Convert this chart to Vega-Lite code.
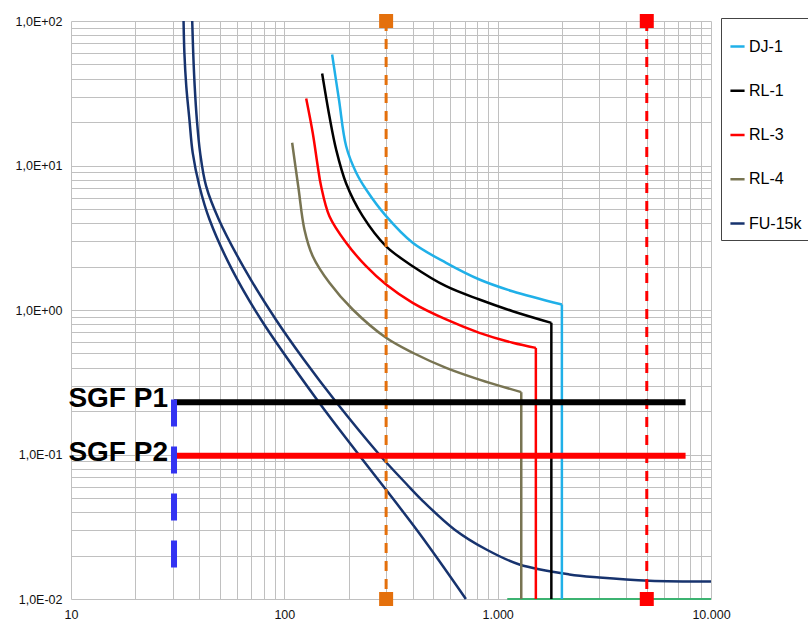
{
  "$schema": "https://vega.github.io/schema/vega-lite/v6.json",
  "width": 640,
  "height": 578,
  "autosize": {"type": "none"},
  "padding": {"left": 71, "top": 21, "right": 97, "bottom": 29},
  "background": "white",
  "config": {"view": {"stroke": null}, "font": "Liberation Sans"},
  "datasets": {
    "curveData": [
      {"series": "FU-15k", "part": "A", "x": 33.7, "y": 100},
      {"series": "FU-15k", "part": "A", "x": 34.0, "y": 60.3},
      {"series": "FU-15k", "part": "A", "x": 34.7, "y": 35.4},
      {"series": "FU-15k", "part": "A", "x": 35.9, "y": 20.8},
      {"series": "FU-15k", "part": "A", "x": 37.2, "y": 12.24},
      {"series": "FU-15k", "part": "A", "x": 40.0, "y": 7.19},
      {"series": "FU-15k", "part": "A", "x": 44.6, "y": 4.23},
      {"series": "FU-15k", "part": "A", "x": 56.8, "y": 1.91},
      {"series": "FU-15k", "part": "A", "x": 77.7, "y": 0.86},
      {"series": "FU-15k", "part": "A", "x": 144.3, "y": 0.2328},
      {"series": "FU-15k", "part": "A", "x": 223, "y": 0.1},
      {"series": "FU-15k", "part": "A", "x": 426.5, "y": 0.02885},
      {"series": "FU-15k", "part": "A", "x": 709.6, "y": 0.01},
      {"series": "FU-15k", "part": "B", "x": 37.0, "y": 100},
      {"series": "FU-15k", "part": "B", "x": 37.4, "y": 60.3},
      {"series": "FU-15k", "part": "B", "x": 38.0, "y": 35.4},
      {"series": "FU-15k", "part": "B", "x": 38.9, "y": 20.8},
      {"series": "FU-15k", "part": "B", "x": 40.3, "y": 12.24},
      {"series": "FU-15k", "part": "B", "x": 43.0, "y": 7.19},
      {"series": "FU-15k", "part": "B", "x": 49.3, "y": 4.23},
      {"series": "FU-15k", "part": "B", "x": 65.3, "y": 1.91},
      {"series": "FU-15k", "part": "B", "x": 91.2, "y": 0.86},
      {"series": "FU-15k", "part": "B", "x": 123.4, "y": 0.4544},
      {"series": "FU-15k", "part": "B", "x": 174.1, "y": 0.2328},
      {"series": "FU-15k", "part": "B", "x": 278.5, "y": 0.1},
      {"series": "FU-15k", "part": "B", "x": 309.8, "y": 0.0839},
      {"series": "FU-15k", "part": "B", "x": 371.8, "y": 0.063},
      {"series": "FU-15k", "part": "B", "x": 439.0, "y": 0.0488},
      {"series": "FU-15k", "part": "B", "x": 626.8, "y": 0.0303},
      {"series": "FU-15k", "part": "B", "x": 885, "y": 0.022},
      {"series": "FU-15k", "part": "B", "x": 1264, "y": 0.01733},
      {"series": "FU-15k", "part": "B", "x": 2168, "y": 0.01479},
      {"series": "FU-15k", "part": "B", "x": 2998, "y": 0.0141},
      {"series": "FU-15k", "part": "B", "x": 5140, "y": 0.0134},
      {"series": "FU-15k", "part": "B", "x": 10000, "y": 0.0132},
      {"series": "DJ-1", "part": "C", "x": 167.5, "y": 58.6},
      {"series": "DJ-1", "part": "C", "x": 180.3, "y": 28.6},
      {"series": "DJ-1", "part": "C", "x": 194.9, "y": 13.6},
      {"series": "DJ-1", "part": "C", "x": 217.0, "y": 8.95},
      {"series": "DJ-1", "part": "C", "x": 241.7, "y": 6.82},
      {"series": "DJ-1", "part": "C", "x": 300, "y": 4.46},
      {"series": "DJ-1", "part": "C", "x": 399.6, "y": 2.92},
      {"series": "DJ-1", "part": "C", "x": 573.2, "y": 2.12},
      {"series": "DJ-1", "part": "C", "x": 821, "y": 1.626},
      {"series": "DJ-1", "part": "C", "x": 1172, "y": 1.349},
      {"series": "DJ-1", "part": "C", "x": 2000, "y": 1.092},
      {"series": "RL-1", "part": "C", "x": 150.4, "y": 43.3},
      {"series": "RL-1", "part": "C", "x": 162.7, "y": 21.9},
      {"series": "RL-1", "part": "C", "x": 174.9, "y": 12.9},
      {"series": "RL-1", "part": "C", "x": 194.9, "y": 7.51},
      {"series": "RL-1", "part": "C", "x": 233.0, "y": 4.46},
      {"series": "RL-1", "part": "C", "x": 300, "y": 2.76},
      {"series": "RL-1", "part": "C", "x": 399.6, "y": 2.01},
      {"series": "RL-1", "part": "C", "x": 573.2, "y": 1.461},
      {"series": "RL-1", "part": "C", "x": 821, "y": 1.182},
      {"series": "RL-1", "part": "C", "x": 1176, "y": 0.981},
      {"series": "RL-1", "part": "C", "x": 1785, "y": 0.815},
      {"series": "RL-3", "part": "C", "x": 126.6, "y": 29.1},
      {"series": "RL-3", "part": "C", "x": 135.9, "y": 16.8},
      {"series": "RL-3", "part": "C", "x": 143.4, "y": 9.89},
      {"series": "RL-3", "part": "C", "x": 148.5, "y": 7.27},
      {"series": "RL-3", "part": "C", "x": 162.7, "y": 4.46},
      {"series": "RL-3", "part": "C", "x": 194.9, "y": 2.92},
      {"series": "RL-3", "part": "C", "x": 241.7, "y": 2.01},
      {"series": "RL-3", "part": "C", "x": 300, "y": 1.501},
      {"series": "RL-3", "part": "C", "x": 399.6, "y": 1.121},
      {"series": "RL-3", "part": "C", "x": 573.2, "y": 0.86},
      {"series": "RL-3", "part": "C", "x": 821, "y": 0.695},
      {"series": "RL-3", "part": "C", "x": 1176, "y": 0.593},
      {"series": "RL-3", "part": "C", "x": 1510, "y": 0.547},
      {"series": "RL-4", "part": "C", "x": 108.8, "y": 14.36},
      {"series": "RL-4", "part": "C", "x": 116.4, "y": 7.04},
      {"series": "RL-4", "part": "C", "x": 124.2, "y": 3.61},
      {"series": "RL-4", "part": "C", "x": 135.9, "y": 2.357},
      {"series": "RL-4", "part": "C", "x": 162.7, "y": 1.543},
      {"series": "RL-4", "part": "C", "x": 209.2, "y": 1.008},
      {"series": "RL-4", "part": "C", "x": 300, "y": 0.642},
      {"series": "RL-4", "part": "C", "x": 399.6, "y": 0.506},
      {"series": "RL-4", "part": "C", "x": 573.2, "y": 0.398},
      {"series": "RL-4", "part": "C", "x": 821, "y": 0.33},
      {"series": "RL-4", "part": "C", "x": 1290, "y": 0.27}
    ],
    "dropData": [
      {"series": "DJ-1", "x": 2000, "y": 1.092, "yEnd": 0.01},
      {"series": "RL-1", "x": 1785, "y": 0.815, "yEnd": 0.01},
      {"series": "RL-3", "x": 1510, "y": 0.547, "yEnd": 0.01},
      {"series": "RL-4", "x": 1290, "y": 0.27, "yEnd": 0.01}
    ],
    "markerLines": [
      {"marca": "M1", "x": 300, "yTop": 100, "yBottom": 0.01},
      {"marca": "M2", "x": 5000, "yTop": 100, "yBottom": 0.01}
    ],
    "markerEnds": [
      {"marca": "M1", "x": 300, "y": 100},
      {"marca": "M1", "x": 300, "y": 0.01},
      {"marca": "M2", "x": 5000, "y": 100},
      {"marca": "M2", "x": 5000, "y": 0.01}
    ],
    "sgfLines": [
      {"name": "SGF P1", "x": 30.4, "xEnd": 7600, "y": 0.23},
      {"name": "SGF P2", "x": 30.4, "xEnd": 7600, "y": 0.098}
    ],
    "sgfTimeData": [
      {"x": 30.4, "y": 0.2404, "yEnd": 0.01652}
    ],
    "baseLine": [
      {"x": 1109, "xEnd": 10000, "y": 0.01}
    ]
  },
  "layer": [
    {
      "data": {"name": "curveData"},
      "mark": {"type": "line", "interpolate": "catmull-rom", "strokeWidth": 2.5},
      "encoding": {
        "x": {
          "field": "x", "type": "quantitative",
          "scale": {"type": "log", "domain": [10, 10000], "nice": false},
          "axis": {
            "title": null,
            "values": [10,20,30,40,50,60,70,80,90,100,200,300,400,500,600,700,800,900,1000,2000,3000,4000,5000,6000,7000,8000,9000,10000],
            "labelExpr": "datum.value==10?'10':datum.value==100?'100':datum.value==1000?'1.000':datum.value==10000?'10.000':''",
            "grid": true, "gridColor": "#c0c0c0",
            "domain": false,
            "ticks": false,
            "labelFontSize": 12.5, "labelColor": "#111", "labelPadding": 9,
            "labelFlush": false, "labelOverlap": false
          }
        },
        "y": {
          "field": "y", "type": "quantitative",
          "scale": {"type": "log", "domain": [0.01, 100], "nice": false},
          "axis": {
            "title": null,
            "values": [0.01,0.02,0.03,0.04,0.05,0.06,0.07,0.08,0.09,0.1,0.2,0.3,0.4,0.5,0.6,0.7,0.8,0.9,1,2,3,4,5,6,7,8,9,10,20,30,40,50,60,70,80,90,100],
            "labelExpr": "datum.value==100?'1,0E+02':datum.value==10?'1,0E+01':datum.value==1?'1,0E+00':datum.value==0.1?'1,0E-01':datum.value==0.01?'1,0E-02':''",
            "grid": true, "gridColor": "#c0c0c0",
            "domain": false,
            "ticks": false,
            "labelFontSize": 12.5, "labelColor": "#111", "labelPadding": 9,
            "labelOverlap": false
          }
        },
        "color": {
          "field": "series", "type": "nominal",
          "scale": {"domain": ["DJ-1", "RL-1", "RL-3", "RL-4", "FU-15k"], "range": ["#20B0E8", "#000000", "#FF0000", "#787452", "#17336E"]},
          "legend": {
            "title": " ", "titleFontSize": 8, "titlePadding": 4,
            "orient": "none", "legendX": 650, "legendY": -3, "padding": 8,
            "strokeColor": "#444",
            "symbolType": "stroke", "symbolSize": 200, "symbolStrokeWidth": 2.5,
            "labelFontSize": 16, "labelColor": "#000", "labelOffset": 3,
            "rowPadding": 27.25
          }
        },
        "detail": {"field": "part", "type": "nominal"}
      }
    },
    {
      "data": {"name": "baseLine"},
      "mark": {"type": "rule", "color": "#3CB371", "strokeWidth": 2},
      "encoding": {
        "x": {"field": "x", "type": "quantitative"},
        "x2": {"field": "xEnd"},
        "y": {"field": "y", "type": "quantitative"}
      }
    },
    {
      "data": {"name": "dropData"},
      "mark": {"type": "rule", "strokeWidth": 2.5},
      "encoding": {
        "x": {"field": "x", "type": "quantitative"},
        "y": {"field": "y", "type": "quantitative"},
        "y2": {"field": "yEnd"},
        "color": {"field": "series", "type": "nominal"}
      }
    },
    {
      "data": {"name": "markerLines"},
      "transform": [{"filter": "datum.marca == 'M1'"}],
      "mark": {"type": "rule", "strokeWidth": 3, "strokeDash": [10, 8], "color": "#E4700C"},
      "encoding": {
        "x": {"field": "x", "type": "quantitative"},
        "y": {"field": "yTop", "type": "quantitative"},
        "y2": {"field": "yBottom"}
      }
    },
    {
      "data": {"name": "markerLines"},
      "transform": [{"filter": "datum.marca == 'M2'"}],
      "mark": {"type": "rule", "strokeWidth": 3, "strokeDash": [10, 8], "color": "#FF0000"},
      "encoding": {
        "x": {"field": "x", "type": "quantitative"},
        "y": {"field": "yTop", "type": "quantitative"},
        "y2": {"field": "yBottom"}
      }
    },
    {
      "data": {"name": "sgfLines"},
      "transform": [{"filter": "datum.name == 'SGF P1'"}],
      "mark": {"type": "rule", "strokeWidth": 6, "color": "#000000"},
      "encoding": {
        "x": {"field": "x", "type": "quantitative"},
        "x2": {"field": "xEnd"},
        "y": {"field": "y", "type": "quantitative"}
      }
    },
    {
      "data": {"name": "sgfLines"},
      "transform": [{"filter": "datum.name == 'SGF P2'"}],
      "mark": {"type": "rule", "strokeWidth": 6, "color": "#FF0000"},
      "encoding": {
        "x": {"field": "x", "type": "quantitative"},
        "x2": {"field": "xEnd"},
        "y": {"field": "y", "type": "quantitative"}
      }
    },
    {
      "data": {"name": "sgfLines"},
      "mark": {"type": "text", "align": "right", "baseline": "middle", "dx": -6, "dy": -3, "fontSize": 28, "fontWeight": "bold", "color": "#000"},
      "encoding": {
        "x": {"field": "x", "type": "quantitative"},
        "y": {"field": "y", "type": "quantitative"},
        "text": {"field": "name", "type": "nominal"}
      }
    },
    {
      "data": {"name": "sgfTimeData"},
      "mark": {"type": "rule", "strokeWidth": 6, "strokeDash": [27, 20], "color": "#3333F2"},
      "encoding": {
        "x": {"field": "x", "type": "quantitative"},
        "y": {"field": "y", "type": "quantitative"},
        "y2": {"field": "yEnd"}
      }
    },
    {
      "data": {"name": "markerEnds"},
      "transform": [{"filter": "datum.marca == 'M1'"}],
      "mark": {"type": "square", "filled": true, "size": 196, "opacity": 1, "color": "#E4700C"},
      "encoding": {
        "x": {"field": "x", "type": "quantitative"},
        "y": {"field": "y", "type": "quantitative"}
      }
    },
    {
      "data": {"name": "markerEnds"},
      "transform": [{"filter": "datum.marca == 'M2'"}],
      "mark": {"type": "square", "filled": true, "size": 196, "opacity": 1, "color": "#FF0000"},
      "encoding": {
        "x": {"field": "x", "type": "quantitative"},
        "y": {"field": "y", "type": "quantitative"}
      }
    }
  ]
}
